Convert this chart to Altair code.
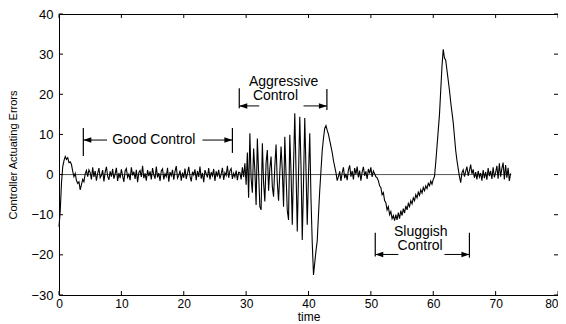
import altair as alt
import pandas as pd

# ---------------- data ----------------
T_STEP = 0.2  # sampling grid of the signal

err_0_5 = [-13.0, -9.0, -2.0, 2.0, 3.5, 4.5, 3.8, 4.2, 3.0, 3.2,
           2.5, 0.8, -0.5, 0.3, -1.5, -2.2, -1.8, -3.8, -2.5, -1.2,
           -1.8, 0.2, 1.0, -0.5, 1.2]
err_5_29 = [0.5, -1.2, 1.8, -0.6, 0.9, -1.5, 0.3, 1.6, -0.8, -0.2,
            1.1, -1.7, 0.6, 1.9, -0.4, -1.3, 0.8, -0.5, 1.4, -1.0,
            0.2, 1.7, -1.6, 0.4, -0.9,
            1.3, -0.3, -1.8, 0.9, 1.5, -0.7, 0.1, -1.4, 1.8, -0.2,
            0.7, -1.1, 1.2, -1.9, 0.5, 1.0, -0.6, 2.2, -0.9, 0.3,
            -1.5, 1.1, -0.4, 0.8, -1.2,
            1.6, -0.1, -1.0, 2.0, -0.7, 0.4, -1.6, 0.9, 1.4, -1.2,
            0.2, -0.5, 1.7, -1.8, 0.6, -0.3, 1.2, -1.3, 0.8, 2.1,
            -0.9, -0.2, 1.0, -1.5, 0.5,
            -0.8, 1.5, -1.1, 0.3, 1.9, -0.4, -1.7, 0.7, -0.1, 1.3,
            -1.4, 0.9, -0.6, 2.0, -1.0, 0.4, -1.9, 1.1, 0.2, -0.7,
            1.6, -1.2, 0.6, -0.3, 1.4,
            -1.6, 0.8, -0.5, 1.2, -1.0, 0.1, 1.7, -1.3, 0.5, -0.2,
            2.2, -0.8, 0.9, 1.5, -1.1, 0.3, -0.6, 1.0, -1.4, 0.6]
err_29_45 = [0.5, -1.2, 1.8, -0.6, 2.8, -2.5, 5.5, -5.8, 10.3, -1.0,
             -4.5, 6.5, 1.0, -7.6, 9.0, 0.5, -8.0, -8.8, 7.8, -2.0,
             -6.7, 3.0, 6.1, -4.0, 1.5, 4.5, -3.0, -5.5, 2.0, 7.5,
             -2.0, -6.5, 0.5, 7.0, 1.0, -8.0, 9.4, 0.0, -9.0, -11.3,
             9.9, 0.5, -12.5, 2.0, 15.3, 1.0, -14.2, 0.0, 14.4, 2.0,
             -16.3, -2.0, 14.1, 1.0, -12.5, 0.0, 10.3, -6.0, -17.0, -25.0,
             -22.0, -19.0, -16.5, -10.0, -4.0, 1.0, 6.0, 9.0, 11.5, 12.2,
             11.0, 10.0, 8.5, 7.0, 5.5, 3.5, 2.0, 0.5, -1.5, -0.5]
err_45_51 = [0.8, -1.6, 0.4, 1.8, -0.9, 0.2, -1.4, 1.2, 2.3, -0.5,
             0.9, -1.2, 1.6, 0.1, 2.0, -0.7, 1.0, -1.5, 0.6, 1.9,
             -0.3, 0.8, -1.1, 1.4, 0.3, 1.8, -0.6, 0.9, 0.2, -0.5]
err_51_73 = [-0.8, -1.5, -2.8, -3.2, -5.0, -4.5, -6.5, -7.0, -8.8, -8.0,
             -10.0, -9.2, -11.0, -10.2, -11.5, -10.0, -11.3, -9.5, -11.0, -9.0,
             -10.2, -8.5, -9.6, -7.8, -8.8, -7.2, -8.0, -6.5, -7.3, -5.8,
             -6.5, -5.0, -5.8, -4.4, -5.2, -3.8, -4.6, -3.2, -4.0, -2.8,
             -3.5, -2.2, -2.8, -1.6, -2.4, -1.2, -0.5, 3.0, 7.0, 11.0,
             15.0, 21.0, 27.0, 31.2, 29.0, 28.5, 26.0, 23.5, 21.0, 18.0,
             15.5, 13.0, 9.5, 6.0, 3.5, 1.5, -0.5, -2.0, 0.5, 1.2,
             -0.5, 0.8, 2.0, -0.3, 1.0, 2.5, 0.2, 1.3, -0.8, 0.6,
             -1.2, 0.9, -0.6, 0.4, -1.5, 1.1, -0.9, 0.7, -1.3, 1.6,
             -0.4, 0.9, -1.1, 1.8, -0.7, 0.5, 2.2, -1.0, 2.8, -0.5,
             1.5, 3.0, -1.2, 2.4, -0.8, 1.7, -1.6, 0.3]

# set-point (zero) line
ref_t = [0.0, 72.5]
ref_y = [0.0, 0.0]

# annotation bars (vertical limit marks)
bar_x = [3.9, 27.8, 28.9, 42.95, 50.7, 65.8]
bar_y1 = [4.6, 5.4, 16.5, 16.1, -14.5, -14.5]
bar_y2 = [11.6, 11.6, 21.5, 21.3, -20.4, -20.7]

# arrow shafts
shaft_x1 = [3.9, 23.0, 28.9, 39.2, 50.7, 61.8]
shaft_x2 = [7.7, 27.8, 32.1, 42.95, 54.4, 65.8]
shaft_y = [8.6, 8.6, 17.1, 17.1, -19.9, -19.9]

# arrow heads
head_left_x = [3.9, 28.9, 50.7]
head_left_y = [8.6, 17.1, -19.9]
head_right_x = [27.8, 42.95, 65.8]
head_right_y = [8.6, 17.1, -19.9]

# annotation texts
text_label = ["Good Control", "Aggressive", "Control", "Sluggish", "Control"]
text_x = [15.2, 36.0, 34.7, 58.0, 57.9]
text_y = [8.6, 23.1, 19.5, -14.2, -17.8]

x_ticks = [0, 10, 20, 30, 40, 50, 60, 70, 80]
y_ticks = [-30, -20, -10, 0, 10, 20, 30, 40]

# ---------------- tables ----------------
err = err_0_5 + err_5_29 + err_29_45 + err_45_51 + err_51_73
sig = pd.DataFrame({"t": [round(i * T_STEP, 1) for i in range(len(err))], "e": err})
ref = pd.DataFrame({"t": ref_t, "e": ref_y})
bars = pd.DataFrame({"x": bar_x, "y1": bar_y1, "y2": bar_y2})
shafts = pd.DataFrame({"x1": shaft_x1, "x2": shaft_x2, "y": shaft_y})
hl = pd.DataFrame({"x": head_left_x, "y": head_left_y})
hr = pd.DataFrame({"x": head_right_x, "y": head_right_y})
txt = pd.DataFrame({"x": text_x, "y": text_y, "label": text_label})
xt = pd.DataFrame({"x": x_ticks})
yt = pd.DataFrame({"y": y_ticks})

W, H = 499, 281
FONT = "Liberation Sans"
xs = alt.Scale(domain=[0, 80], nice=False, zero=False)
ys = alt.Scale(domain=[-30, 40], nice=False, zero=False)

xaxis = alt.Axis(values=x_ticks, ticks=False, grid=False, domain=False,
                 labelFont=FONT, labelFontSize=12, labelColor="black",
                 labelFlush=False,
                 labelAlign=alt.expr("datum.value == 80 ? 'right' : 'center'"),
                 labelPadding=3, titleFont=FONT, titleFontSize=12,
                 titleFontWeight="normal", titleColor="black",
                 titleBaseline="alphabetic", titleY=25.5)
yaxis = alt.Axis(values=y_ticks, ticks=False, grid=False, domain=False,
                 labelFont=FONT, labelFontSize=13, labelColor="black",
                 labelPadding=6, titleFont=FONT, titleFontSize=11,
                 titleFontWeight="normal", titleColor="black", titlePadding=12)


def X(field):
    return alt.X(field, scale=xs, axis=xaxis, title="time")


def Y(field):
    return alt.Y(field, scale=ys, axis=yaxis, title="Controller Actuating Errors")


zero = alt.Chart(ref).mark_line(color="#555555", strokeWidth=1).encode(
    x=X("t:Q"), y=Y("e:Q"))

main = alt.Chart(sig).mark_line(color="black", strokeWidth=1.1).encode(
    x=X("t:Q"), y=Y("e:Q"))

bar_l = alt.Chart(bars).mark_rule(color="black", strokeWidth=1.2).encode(
    x=X("x:Q"), y=Y("y1:Q"), y2="y2:Q")

shaft_l = alt.Chart(shafts).mark_rule(color="black", strokeWidth=1).encode(
    x=X("x1:Q"), x2="x2:Q", y=Y("y:Q"))

left_path = "M0,0 L1.6,-0.55 L1.6,0.55 Z"
right_path = "M0,0 L-1.6,-0.55 L-1.6,0.55 Z"
hl_l = alt.Chart(hl).mark_point(shape=left_path, filled=True, color="black", size=100, opacity=1).encode(
    x=X("x:Q"), y=Y("y:Q"))
hr_l = alt.Chart(hr).mark_point(shape=right_path, filled=True, color="black", size=100, opacity=1).encode(
    x=X("x:Q"), y=Y("y:Q"))

text_l = alt.Chart(txt).mark_text(font=FONT, fontSize=14, color="black", align="center", baseline="middle").encode(
    x=X("x:Q"), y=Y("y:Q"), text="label:N")

TK = 4
tick_b = alt.Chart(xt).mark_rule(color="black").encode(
    x=X("x:Q"), y=alt.value(H), y2=alt.value(H - TK))
tick_t = alt.Chart(xt).mark_rule(color="black").encode(
    x=X("x:Q"), y=alt.value(0), y2=alt.value(TK))
tick_lf = alt.Chart(yt).mark_rule(color="black").encode(
    y=Y("y:Q"), x=alt.value(0), x2=alt.value(TK))
tick_rt = alt.Chart(yt).mark_rule(color="black").encode(
    y=Y("y:Q"), x=alt.value(W - TK), x2=alt.value(W))

chart = alt.layer(
    zero, main, bar_l, shaft_l, hl_l, hr_l, text_l, tick_b, tick_t, tick_lf, tick_rt
).properties(
    width=W, height=H,
    background="white",
    autosize=alt.AutoSizeParams(type="none"),
    padding={"left": 51, "top": 6, "right": 0, "bottom": 29},
).configure_view(stroke="black", strokeWidth=1)

chart.save("out.html", embed_options={"renderer": "svg", "actions": False})
